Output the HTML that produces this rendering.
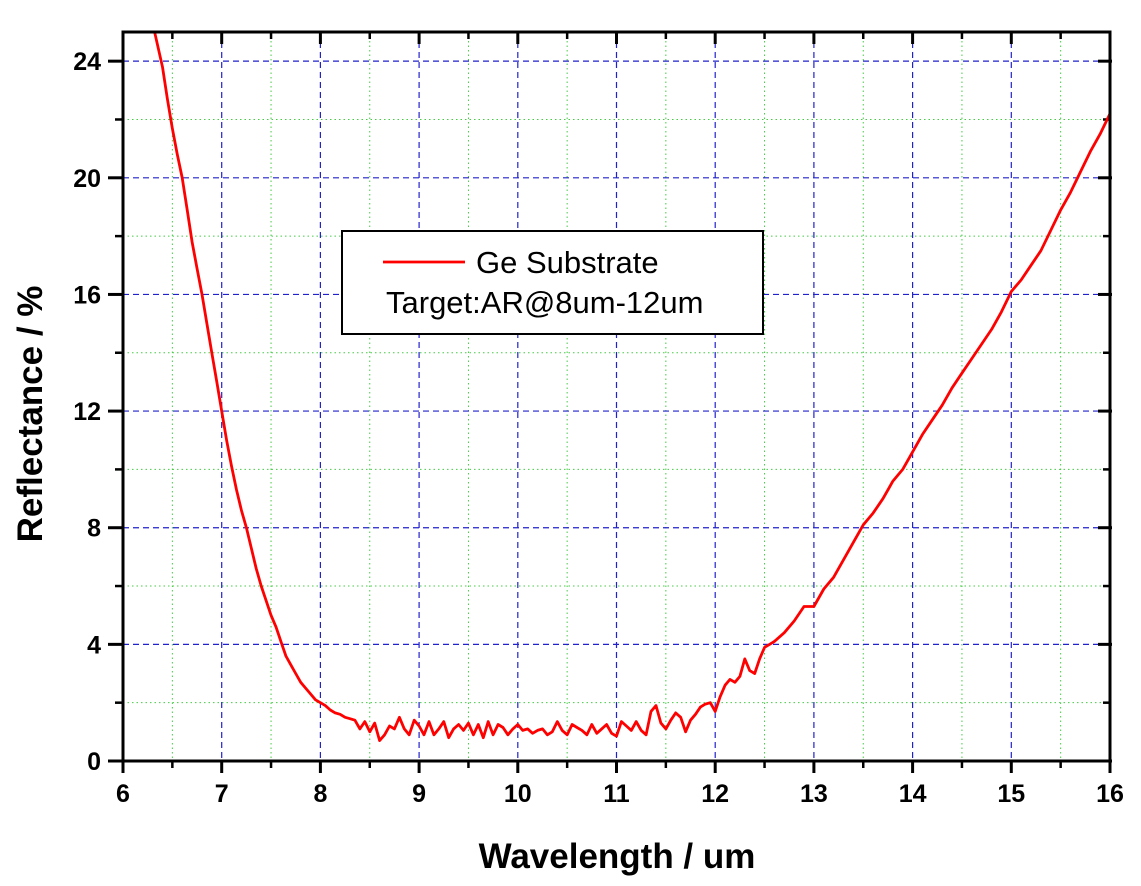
<!DOCTYPE html>
<html><head><meta charset="utf-8"><style>
body{margin:0;background:#fff;}
svg{display:block;font-family:"Liberation Sans",Arial,sans-serif;}
</style></head><body>
<svg id="chart" width="1141" height="886" viewBox="0 0 1141 886" xmlns="http://www.w3.org/2000/svg">
<g id="grid"></g>
<g id="axes"></g>
<path id="curve" fill="none" stroke="#ff0000" stroke-width="2.8" stroke-linejoin="round"/>
<rect x="123" y="32" width="987" height="729" fill="none" stroke="#000" stroke-width="3"/>
<g>
<rect x="342" y="231" width="421" height="103" fill="#fff" stroke="#000" stroke-width="2"/>
<line x1="383" y1="262" x2="465" y2="262" stroke="#ff0000" stroke-width="2.8"/>
<text x="476" y="273" font-size="31">Ge Substrate</text>
<text x="386" y="313" font-size="31">Target:AR@8um-12um</text>
</g>
<text x="617" y="868" font-size="35" font-weight="bold" text-anchor="middle">Wavelength / um</text>
<text transform="translate(42,414) rotate(-90)" font-size="35" font-weight="bold" text-anchor="middle">Reflectance / %</text>
</svg>
<script>
const xTicks=[6,7,8,9,10,11,12,13,14,15,16];
const yTicks=[0,4,8,12,16,20,24];
const wavelength=[6.32,6.4,6.45,6.5,6.55,6.6,6.65,6.7,6.75,6.8,6.85,6.9,6.95,7.0,7.05,7.1,7.15,7.2,7.25,7.3,7.35,7.4,7.45,7.5,7.55,7.6,7.65,7.7,7.75,7.8,7.85,7.9,7.95,8.0,8.05,8.1,8.15,8.2,8.25,8.3,8.35,8.4,8.45,8.5,8.55,8.6,8.65,8.7,8.75,8.8,8.85,8.9,8.95,9.0,9.05,9.1,9.15,9.2,9.25,9.3,9.35,9.4,9.45,9.5,9.55,9.6,9.65,9.7,9.75,9.8,9.85,9.9,9.95,10.0,10.05,10.1,10.15,10.2,10.25,10.3,10.35,10.4,10.45,10.5,10.55,10.6,10.65,10.7,10.75,10.8,10.85,10.9,10.95,11.0,11.05,11.1,11.15,11.2,11.25,11.3,11.35,11.4,11.45,11.5,11.55,11.6,11.65,11.7,11.75,11.8,11.85,11.9,11.95,12.0,12.05,12.1,12.15,12.2,12.25,12.3,12.35,12.4,12.45,12.5,12.55,12.6,12.7,12.8,12.9,13.0,13.1,13.2,13.3,13.4,13.5,13.6,13.7,13.8,13.9,14.0,14.1,14.2,14.3,14.4,14.5,14.6,14.7,14.8,14.9,15.0,15.1,15.2,15.3,15.4,15.5,15.6,15.7,15.8,15.9,16.0];
const reflectance=[25,23.8,22.7,21.7,20.8,20,18.9,17.8,16.9,16.0,15.0,14.0,13.0,12.0,11.0,10.1,9.3,8.6,8.0,7.3,6.6,6.0,5.5,5.0,4.6,4.1,3.6,3.3,3.0,2.7,2.5,2.3,2.1,2.0,1.9,1.75,1.65,1.6,1.5,1.45,1.4,1.1,1.35,1.0,1.3,0.7,0.9,1.2,1.1,1.5,1.1,0.9,1.4,1.2,0.9,1.35,0.9,1.1,1.35,0.8,1.1,1.25,1.05,1.3,0.9,1.25,0.8,1.35,0.9,1.25,1.15,0.9,1.1,1.25,1.05,1.1,0.95,1.05,1.1,0.9,1.0,1.35,1.05,0.9,1.25,1.15,1.05,0.9,1.25,0.95,1.1,1.25,0.95,0.85,1.35,1.2,1.05,1.35,1.05,0.9,1.7,1.9,1.3,1.1,1.4,1.65,1.5,1.0,1.4,1.6,1.85,1.95,2.0,1.7,2.2,2.6,2.8,2.7,2.9,3.5,3.1,3.0,3.5,3.9,4.0,4.1,4.4,4.8,5.3,5.3,5.9,6.3,6.9,7.5,8.1,8.5,9.0,9.6,10.0,10.6,11.2,11.7,12.2,12.8,13.3,13.8,14.3,14.8,15.4,16.1,16.5,17.0,17.5,18.2,18.9,19.5,20.2,20.9,21.5,22.2];
const L=123,R=1110,T=32,B=761,XMIN=6,XMAX=16,YMAX=25;
const sx=v=>L+(v-XMIN)/(XMAX-XMIN)*(R-L);
const sy=v=>B-v/YMAX*(B-T);
const NS="http://www.w3.org/2000/svg";
function mk(tag,attrs,parent){const e=document.createElementNS(NS,tag);for(const k in attrs)e.setAttribute(k,attrs[k]);parent.appendChild(e);return e;}
const grid=document.getElementById('grid'),axes=document.getElementById('axes');
for(let v=6.5;v<16;v+=1){const l=mk('line',{x1:sx(v),x2:sx(v),y1:T,y2:B,stroke:'#44cc44','stroke-width':1,'stroke-dasharray':'1.5 3'},grid);

}
for(let v=2;v<25;v+=4){const l=mk('line',{x1:L,x2:R,y1:sy(v),y2:sy(v),stroke:'#44cc44','stroke-width':1,'stroke-dasharray':'1.5 3'},grid);

}
xTicks.forEach(v=>{if(v>XMIN&&v<XMAX){const l=mk('line',{x1:sx(v),x2:sx(v),y1:T,y2:B,stroke:'#2222cc','stroke-width':1.2,'stroke-dasharray':'6 4'},grid);

}
const t=mk('line',{x1:sx(v),x2:sx(v),y1:B,y2:B+12,stroke:'#000','stroke-width':3},axes);


const t2=mk('line',{x1:sx(v),x2:sx(v),y1:T,y2:T+12,stroke:'#000','stroke-width':3},axes);


const tx=mk('text',{x:sx(v),y:B+41,'font-size':25,'font-weight':'bold','text-anchor':'middle'},axes);tx.textContent=v;

});
for(let v=6.5;v<16;v+=1){const t=mk('line',{x1:sx(v),x2:sx(v),y1:B,y2:B+7,stroke:'#000','stroke-width':2.5},axes);


const t2=mk('line',{x1:sx(v),x2:sx(v),y1:T,y2:T+7,stroke:'#000','stroke-width':2.5},axes);

}
yTicks.forEach(v=>{if(v>0){const l=mk('line',{x1:L,x2:R,y1:sy(v),y2:sy(v),stroke:'#2222cc','stroke-width':1.2,'stroke-dasharray':'6 4'},grid);

}
const t=mk('line',{x1:L-15,x2:L,y1:sy(v),y2:sy(v),stroke:'#000','stroke-width':3},axes);


const t2=mk('line',{x1:R-12,x2:R+2,y1:sy(v),y2:sy(v),stroke:'#000','stroke-width':3},axes);


const tx=mk('text',{x:L-22,y:sy(v)+9,'font-size':25,'font-weight':'bold','text-anchor':'end'},axes);tx.textContent=v;

});
for(let v=2;v<25;v+=4){const t=mk('line',{x1:L-8,x2:L,y1:sy(v),y2:sy(v),stroke:'#000','stroke-width':2.5},axes);


const t2=mk('line',{x1:R-7,x2:R,y1:sy(v),y2:sy(v),stroke:'#000','stroke-width':2.5},axes);

}
document.getElementById('curve').setAttribute('d',wavelength.map((w,i)=>(i?'L':'M')+sx(w).toFixed(1)+' '+sy(reflectance[i]).toFixed(1)).join(' '));
</script>
</body></html>
